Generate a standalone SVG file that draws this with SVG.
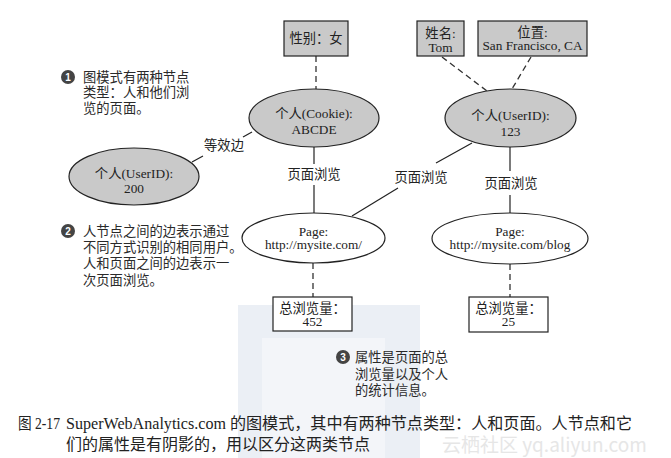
<svg xmlns="http://www.w3.org/2000/svg" width="671" height="458" viewBox="0 0 671 458">
<style>
  text { font-family: "Liberation Serif", "Noto Sans CJK SC", serif; font-size: 13.3px; fill: #222; }
  .c { text-anchor: middle; }
  .shade { fill: #c9c9c9; stroke: #222; stroke-width: 1.2; }
  .plain { fill: #fff; stroke: #222; stroke-width: 1.2; }
  .edge { stroke: #222; stroke-width: 1.2; fill: none; }
  .dash { stroke: #333; stroke-width: 1.3; fill: none; stroke-dasharray: 6 4; }
  .note { font-family: "Noto Sans CJK SC", sans-serif; font-size: 13.3px; fill: #2a2a2a; }
  .bul { fill: #444; }
  .bnum { font-family: "Liberation Sans", sans-serif; font-size: 10px; font-weight: bold; fill: #fff; text-anchor: middle; }
  .cap { font-size: 16px; fill: #222; }
</style>
<rect width="671" height="458" fill="#fff"/>
<!-- faint background watermark band -->
<g id="watermark">
  <rect x="238" y="305" width="182" height="153" fill="#ebeff5"/>
  <rect x="262" y="338" width="123" height="120" fill="#f3f5f9"/>
  <text x="442" y="452" style="font-family:'Noto Sans CJK SC',sans-serif;font-size:19px;fill:#e6e6e6">云栖社区 yq.aliyun.com</text>
</g>

<g id="connectors">
  <line class="dash" x1="316" y1="56" x2="316" y2="89"/>
  <line class="dash" x1="442" y1="57" x2="487" y2="91"/>
  <line class="dash" x1="531" y1="57" x2="512" y2="89"/>
  <line class="dash" x1="313" y1="263" x2="313" y2="297"/>
  <line class="dash" x1="510" y1="264" x2="510" y2="297"/>
  <line class="edge" x1="252" y1="132" x2="243" y2="137"/>
  <line class="edge" x1="203" y1="156" x2="192" y2="162"/>
  <text class="c" x="224" y="150">等效边</text>
  <line class="edge" x1="314" y1="147" x2="314" y2="164"/>
  <line class="edge" x1="314" y1="185" x2="314" y2="213"/>
  <text class="c" x="314" y="179">页面浏览</text>
  <line class="edge" x1="472" y1="143" x2="436" y2="163"/>
  <line class="edge" x1="398" y1="188" x2="352" y2="216"/>
  <text class="c" x="421" y="182">页面浏览</text>
  <line class="edge" x1="510" y1="147" x2="510" y2="171"/>
  <line class="edge" x1="510" y1="195" x2="510" y2="213"/>
  <text class="c" x="511" y="188">页面浏览</text>
</g>

<g id="gender">
  <rect class="shade" x="284" y="21" width="64" height="35"/>
  <text class="c" x="316" y="43">性别：女</text>
</g>
<g id="name">
  <rect class="shade" x="417" y="21" width="47" height="35"/>
  <text class="c" x="440.5" y="38">姓名:</text>
  <text class="c" x="440.5" y="52">Tom</text>
</g>
<g id="location">
  <rect class="shade" x="478" y="21" width="109" height="35"/>
  <text class="c" x="532.5" y="37">位置:</text>
  <text class="c" x="532.5" y="50">San Francisco, CA</text>
</g>
<g id="cookie">
  <ellipse class="shade" cx="314" cy="118" rx="65" ry="29"/>
  <text class="c" x="314" y="118">个人(Cookie):</text>
  <text class="c" x="314" y="134">ABCDE</text>
</g>
<g id="user200">
  <ellipse class="shade" cx="134" cy="176.5" rx="65" ry="28.5"/>
  <text class="c" x="134" y="178">个人(UserID):</text>
  <text class="c" x="134" y="193">200</text>
</g>
<g id="user123">
  <ellipse class="shade" cx="510.5" cy="118" rx="65.5" ry="29"/>
  <text class="c" x="510.5" y="120">个人(UserID):</text>
  <text class="c" x="510.5" y="136">123</text>
</g>
<g id="page1">
  <ellipse class="plain" cx="313.5" cy="238" rx="71.5" ry="25"/>
  <text class="c" x="313.5" y="235.5">Page:</text>
  <text class="c" x="313.5" y="248.5">http://mysite.com/</text>
</g>
<g id="page2">
  <ellipse class="plain" cx="510" cy="238.5" rx="78" ry="25.5"/>
  <text class="c" x="510" y="235.5">Page:</text>
  <text class="c" x="510" y="248.5">http://mysite.com/blog</text>
</g>
<g id="views452">
  <rect class="plain" x="273" y="297" width="79" height="34"/>
  <text class="c" x="312.5" y="313">总浏览量：</text>
  <text class="c" x="312.5" y="326">452</text>
</g>
<g id="views25">
  <rect class="plain" x="469" y="297" width="79" height="35"/>
  <text class="c" x="508.5" y="313">总浏览量：</text>
  <text class="c" x="508.5" y="326">25</text>
</g>

<g id="note1">
  <circle class="bul" cx="68" cy="77" r="7"/>
  <text class="bnum" x="68" y="80.5">1</text>
  <text class="note" x="83" y="82">图模式有两种节点</text>
  <text class="note" x="83" y="97">类型：人和他们浏</text>
  <text class="note" x="83" y="113">览的页面。</text>
</g>
<g id="note2">
  <circle class="bul" cx="68" cy="231" r="7"/>
  <text class="bnum" x="68" y="234.5">2</text>
  <text class="note" x="83" y="236">人节点之间的边表示通过</text>
  <text class="note" x="83" y="252">不同方式识别的相同用户。</text>
  <text class="note" x="83" y="268">人和页面之间的边表示一</text>
  <text class="note" x="83" y="285">次页面浏览。</text>
</g>
<g id="note3">
  <circle class="bul" cx="343" cy="357" r="7"/>
  <text class="bnum" x="343" y="360.5">3</text>
  <text class="note" x="355" y="362">属性是页面的总</text>
  <text class="note" x="355" y="379">浏览量以及个人</text>
  <text class="note" x="355" y="395">的统计信息。</text>
</g>

<g id="caption">
  <text class="cap" x="18" y="429" textLength="42" lengthAdjust="spacingAndGlyphs">图 2-17</text>
  <text class="cap" x="66" y="429" textLength="566" lengthAdjust="spacingAndGlyphs">SuperWebAnalytics.com 的图模式，其中有两种节点类型：人和页面。人节点和它</text>
  <text class="cap" x="66" y="450">们的属性是有阴影的，用以区分这两类节点</text>
</g>
</svg>
